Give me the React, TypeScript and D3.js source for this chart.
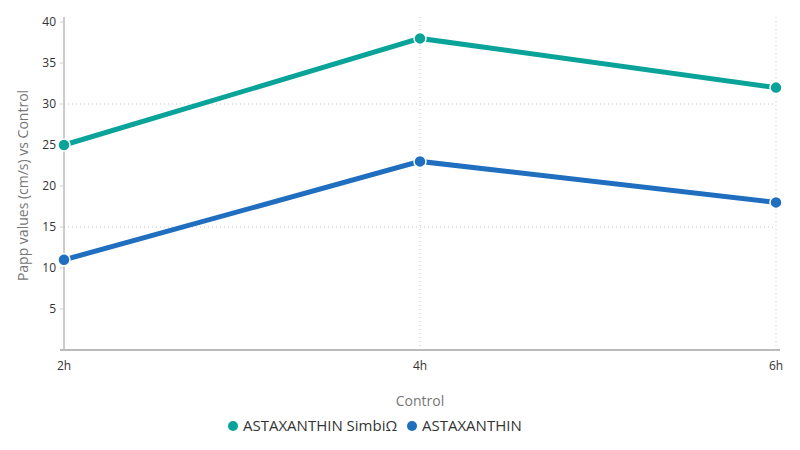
import * as d3 from 'd3';

// chart data
const timePoints = ['2h', '4h', '6h'];
const simbiValues = [25, 38, 32];
const plainValues = [11, 23, 18];
const yTicks = [5, 10, 15, 20, 25, 30, 35, 40];
const gridValues = [15, 30];

const seriesNames = ['ASTAXANTHIN SimbiΩ', 'ASTAXANTHIN'];
const seriesColors = ['#0aa39a', '#1f6ebf'];

const width = 800;
const height = 450;
const margin = { top: 17, right: 24, bottom: 100, left: 64 };
const font = '"Open Sans", "Noto Sans", sans-serif';

const App: React.FC = () => {
  const x = d3
    .scalePoint<string>()
    .domain(timePoints)
    .range([margin.left, width - margin.right]);

  const y = d3
    .scaleLinear()
    .domain([0, 40])
    .range([height - margin.bottom, margin.top + 5]);

  const line = d3
    .line<number>()
    .x((_, i) => x(timePoints[i])!)
    .y((d) => y(d));

  const series = [simbiValues, plainValues];
  const bottom = y(0);

  return (
    <svg
      width={width}
      height={height}
      style={{ position: 'absolute', left: 0, top: 0, fontFamily: font }}
    >
      {/* dotted grid */}
      {gridValues.map((v) => (
        <line
          key={'h' + v}
          x1={margin.left}
          x2={width - margin.right}
          y1={y(v)}
          y2={y(v)}
          stroke="#c8c8c8"
          strokeDasharray="1,3"
        />
      ))}
      {timePoints.slice(1).map((t) => (
        <line
          key={'v' + t}
          x1={x(t)}
          x2={x(t)}
          y1={margin.top}
          y2={bottom}
          stroke="#c8c8c8"
          strokeDasharray="1,3"
        />
      ))}

      {/* y axis */}
      <line x1={margin.left} x2={margin.left} y1={margin.top} y2={bottom} stroke="#bbb" strokeWidth={1.5} />
      {yTicks.map((t) => (
        <g key={t}>
          <line x1={margin.left - 4} x2={margin.left} y1={y(t)} y2={y(t)} stroke="#ccc" />
          <text x={margin.left - 8} y={y(t)} dy="0.35em" textAnchor="end" fontSize={12} fill="#333">
            {t}
          </text>
        </g>
      ))}
      <text
        transform={`translate(28, ${(margin.top + bottom) / 2 + 2}) rotate(-90)`}
        textAnchor="middle"
        fontSize={14}
        fill="#777"
      >
        Papp values (cm/s) vs Control
      </text>

      {/* x axis */}
      <line x1={margin.left - 4} x2={width - margin.right + 4} y1={bottom} y2={bottom} stroke="#bbb" strokeWidth={2} />
      {timePoints.map((t) => (
        <text key={t} x={x(t)} y={bottom + 20} textAnchor="middle" fontSize={12} fill="#333">
          {t}
        </text>
      ))}
      <text x={(margin.left + width - margin.right) / 2} y={406} textAnchor="middle" fontSize={14} fill="#777">
        Control
      </text>

      {/* lines and markers */}
      {series.map((values, si) => (
        <g key={si}>
          <path d={line(values)!} fill="none" stroke={seriesColors[si]} strokeWidth={5} />
          {values.map((v, i) => (
            <circle
              key={i}
              cx={x(timePoints[i])}
              cy={y(v)}
              r={6}
              fill={seriesColors[si]}
              stroke="#fff"
              strokeWidth={1.5}
            />
          ))}
        </g>
      ))}

      {/* legend */}
      <g transform="translate(233, 426)">
        <circle cx={0} cy={0} r={5} fill={seriesColors[0]} />
        <text x={10} y={0} dy="0.35em" fontSize={15} fill="#333">
          {seriesNames[0]}
        </text>
        <circle cx={179} cy={0} r={5} fill={seriesColors[1]} />
        <text x={189} y={0} dy="0.35em" fontSize={15} fill="#333">
          {seriesNames[1]}
        </text>
      </g>
    </svg>
  );
};

export default App;
